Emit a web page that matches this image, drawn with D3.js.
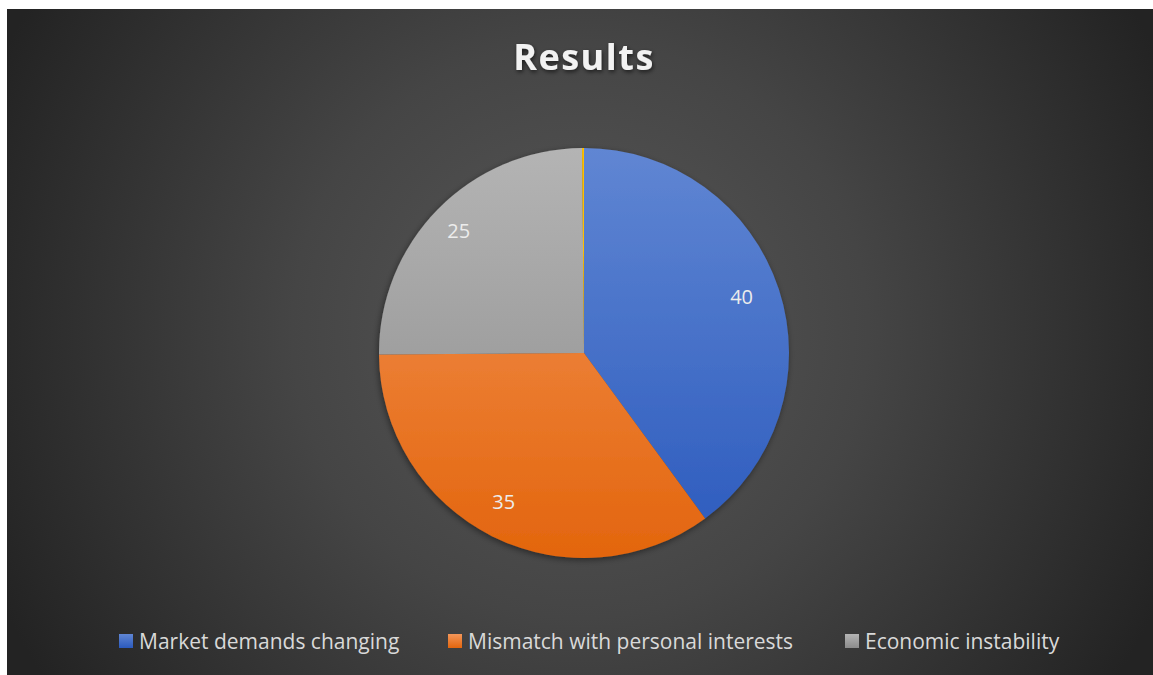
<!DOCTYPE html>
<html>
<head>
<meta charset="utf-8">
<script src="https://cdn.jsdelivr.net/npm/d3@7"></script>
<style>
  html, body { margin: 0; padding: 0; background: #ffffff; }
  svg { display: block; }
</style>
</head>
<body>
<svg id="chart" width="1153" height="675"></svg>
<script>
// Survey results
const categories = ["Market demands changing", "Mismatch with personal interests", "Economic instability", ""];
const values = [40, 35, 25, 0.15];
const legendLabels = ["Market demands changing", "Mismatch with personal interests", "Economic instability"];
const chartTitle = "Results";

const svg = d3.select("#chart");
const W = 1153, H = 675;
const frame = { x: 7, y: 9, w: W - 7, h: H - 9 };
const cx = 584, cy = 353, R = 205;

const defs = svg.append("defs");

// dark radial backdrop
const bg = defs.append("radialGradient").attr("id", "bg")
  .attr("gradientUnits", "userSpaceOnUse")
  .attr("cx", 580).attr("cy", 330).attr("r", 640);
bg.append("stop").attr("offset", "0%").attr("stop-color", "#585858");
bg.append("stop").attr("offset", "45%").attr("stop-color", "#454545");
bg.append("stop").attr("offset", "100%").attr("stop-color", "#232323");

// slice fills: lighter at the top, deeper at the bottom
const fills = [
  ["#6086d3", "#2b5abd"],
  ["#f49659", "#e3650d"],
  ["#b4b4b4", "#8b8b8b"],
  ["#ffc000", "#ffc000"]
];
fills.forEach((f, i) => {
  // coordinates are local to the pie group, centred on the pie
  const g = defs.append("linearGradient").attr("id", "slice" + i)
    .attr("gradientUnits", "userSpaceOnUse")
    .attr("x1", 0).attr("y1", -R).attr("x2", 0).attr("y2", R);
  g.append("stop").attr("offset", "0%").attr("stop-color", f[0]);
  g.append("stop").attr("offset", "100%").attr("stop-color", f[1]);
});

const pieShadow = defs.append("filter").attr("id", "pieShadow")
  .attr("x", "-10%").attr("y", "-10%").attr("width", "120%").attr("height", "120%");
pieShadow.append("feDropShadow").attr("dx", -1).attr("dy", 2).attr("stdDeviation", 3)
  .attr("flood-color", "#000").attr("flood-opacity", 0.45);

const titleShadow = defs.append("filter").attr("id", "titleShadow")
  .attr("x", "-10%").attr("y", "-30%").attr("width", "120%").attr("height", "160%");
titleShadow.append("feDropShadow").attr("dx", 1).attr("dy", 2).attr("stdDeviation", 2)
  .attr("flood-color", "#000").attr("flood-opacity", 0.6);

svg.append("rect")
  .attr("x", frame.x).attr("y", frame.y)
  .attr("width", frame.w).attr("height", frame.h)
  .attr("fill", "url(#bg)");

// title
svg.append("text")
  .attr("x", 584).attr("y", 70)
  .attr("text-anchor", "middle")
  .attr("font-family", "'Open Sans', sans-serif")
  .attr("font-weight", 700)
  .attr("font-size", 36)
  .attr("letter-spacing", 1.5)
  .attr("fill", "#f2f2f2")
  .attr("filter", "url(#titleShadow)")
  .text(chartTitle);

// pie
const pie = d3.pie().sort(null).value(d => d)(values);
const arc = d3.arc().innerRadius(0).outerRadius(R);
const labelArc = d3.arc().innerRadius(170).outerRadius(170);

const g = svg.append("g").attr("transform", `translate(${cx},${cy})`);
g.append("g").attr("filter", "url(#pieShadow)")
  .selectAll("path").data(pie).join("path")
  .attr("d", arc)
  .attr("fill", (d, i) => `url(#slice${i})`);

g.selectAll("text.lbl").data(pie.filter(d => d.data >= 1)).join("text")
  .attr("class", "lbl")
  .attr("transform", d => {
    const [x, y] = labelArc.centroid(d);
    return `translate(${x - 4},${y - 3})`;
  })
  .attr("text-anchor", "middle")
  .attr("dy", "0.35em")
  .attr("font-family", "'Open Sans', sans-serif")
  .attr("font-size", 20)
  .attr("fill", "#ececec")
  .text(d => d3.format("d")(d.data));

// legend
const legendX = [119, 448, 845];
const lg = svg.append("g");
legendLabels.forEach((name, i) => {
  const lgGrad = defs.append("linearGradient").attr("id", "legend" + i)
    .attr("x1", 0).attr("y1", 0).attr("x2", 0).attr("y2", 1);
  lgGrad.append("stop").attr("offset", "0%").attr("stop-color", fills[i][0]);
  lgGrad.append("stop").attr("offset", "100%").attr("stop-color", fills[i][1]);
  const item = lg.append("g").attr("transform", `translate(${legendX[i]},634)`);
  item.append("rect").attr("x", 0).attr("y", 0).attr("width", 14).attr("height", 14)
    .attr("fill", `url(#legend${i})`);
  item.append("text")
    .attr("x", 20).attr("y", 15)
    .attr("font-family", "'Open Sans', sans-serif")
    .attr("font-size", 21)
    .attr("fill", "#d9d9d9")
    .text(name);
});
</script>
</body>
</html>
